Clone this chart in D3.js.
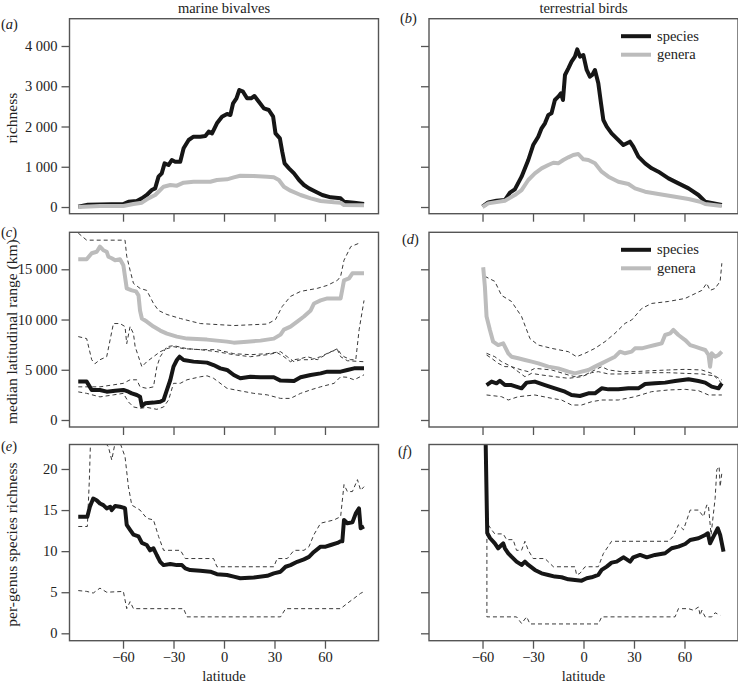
<!DOCTYPE html>
<html>
<head>
<meta charset="utf-8">
<script src="https://cdn.jsdelivr.net/npm/d3@7"></script>
<style>
  body { margin: 0; background: #fff; }
  svg { display: block; font-family: "Liberation Serif", "Times New Roman", "DejaVu Serif", serif; }
</style>
</head>
<body>
<svg id="chart" width="738" height="684"></svg>
<script>
// ---------------- DATA ----------------
const columnTitles = ["marine bivalves", "terrestrial birds"];
const panelLetters = ["a", "b", "c", "d", "e", "f"];
const rowYLabels = ["richness", "median latitudinal range (km)", "per-genus species richness"];
const xTicks = [-60, -30, 0, 30, 60];
const yTicksRichness = [0, 1000, 2000, 3000, 4000];
const yTicksRange = [0, 5000, 10000, 15000];
const yTicksPerGenus = [0, 5, 10, 15, 20];
const legendLabels = ["species", "genera"];

// (a) marine bivalves richness  [latitude, value]
const aSpecies = [[-86.6,8],[-80.9,58],[-59.8,75],[-56.8,132],[-51.8,149],[-48.8,215],[-45.9,298],[-42.9,422],[-40.9,464],[-38.9,754],[-37.0,836],[-35.3,1085],[-33.0,1043],[-31.0,1168],[-29.0,1126],[-26.0,1126],[-24.0,1458],[-21.0,1665],[-18.1,1747],[-14.1,1747],[-11.1,1764],[-9.1,1872],[-7.1,1830],[-4.2,2079],[-1.2,2244],[1.8,2311],[3.8,2286],[5.4,2576],[7.4,2700],[9.1,2907],[11.3,2865],[13.7,2700],[16.1,2700],[18.1,2758],[20.7,2617],[23.7,2451],[26.6,2410],[29.2,2244],[30.6,1830],[33.2,1706],[34.6,1375],[36.0,1085],[38.6,961],[41.6,836],[44.6,671],[47.5,547],[50.5,464],[54.5,381],[58.4,298],[63.4,240],[69.3,215],[71.3,132],[77.3,108],[83.2,75]];
const aGenera = [[-86.6,0],[-73.7,25],[-59.8,25],[-53.8,75],[-48.8,108],[-44.9,215],[-40.9,298],[-37.9,422],[-35.9,505],[-31.9,547],[-28.0,530],[-24.0,605],[-18.1,629],[-8.1,629],[-4.2,671],[1.8,687],[5.8,737],[9.7,778],[17.7,770],[25.7,754],[29.6,737],[32.6,671],[35.6,505],[39.5,406],[45.5,298],[51.5,215],[57.4,149],[65.4,116],[69.3,108],[71.3,50],[83.2,41]];

// (b) terrestrial birds richness
const bSpecies = [[-60.0,8],[-56.6,116],[-51.7,157],[-46.7,174],[-43.7,356],[-40.8,439],[-36.8,754],[-32.8,1168],[-29.9,1540],[-26.9,1747],[-24.9,1954],[-22.9,2079],[-20.9,2286],[-19.0,2327],[-17.0,2658],[-15.0,2741],[-13.4,2824],[-12.2,2658],[-11.0,3280],[-9.0,3445],[-7.1,3611],[-5.1,3735],[-3.7,3917],[-2.1,3735],[-0.1,3776],[1.9,3404],[3.8,3238],[5.2,3280],[6.8,3404],[8.8,3072],[10.4,2576],[11.8,2161],[13.8,1996],[16.7,1830],[19.7,1706],[23.7,1540],[27.6,1623],[29.6,1499],[32.6,1251],[36.6,1085],[40.5,961],[44.5,878],[50.5,712],[56.4,588],[62.4,464],[68.3,298],[72.3,132],[82.2,50]];
const bGenera = [[-60.0,0],[-56.6,91],[-46.7,157],[-40.8,298],[-36.8,422],[-32.8,671],[-28.9,836],[-24.9,961],[-20.9,1043],[-17.9,1101],[-15.0,1085],[-12.0,1168],[-9.0,1234],[-6.1,1292],[-3.1,1317],[-0.1,1184],[2.9,1168],[6.8,1085],[10.8,878],[14.8,754],[20.7,629],[26.7,571],[30.6,464],[36.6,381],[44.5,323],[54.4,257],[62.4,199],[69.3,132],[72.3,75],[82.2,25]];

// (c) marine bivalves median latitudinal range (km)
const cGenera = [[-86.6,16000],[-81.6,16000],[-78.6,16600],[-75.6,16750],[-73.7,17250],[-71.7,16900],[-69.7,16750],[-68.7,16250],[-66.7,16100],[-64.7,15900],[-61.8,16000],[-59.8,15400],[-57.8,13100],[-54.8,12900],[-52.3,12800],[-50.8,12400],[-49.9,10900],[-48.8,10100],[-45.9,9800],[-41.9,9300],[-37.9,8900],[-33.9,8600],[-28.0,8300],[-22.0,8100],[-10.1,8000],[-4.2,7900],[1.8,7800],[5.8,7700],[13.7,7800],[21.7,7900],[29.6,8100],[33.6,8500],[35.6,9000],[39.5,9300],[43.5,9800],[47.5,10300],[51.5,10900],[53.5,11600],[57.4,11900],[61.4,12100],[69.3,12100],[71.3,13900],[74.3,14100],[76.3,14600],[83.2,14600]];
const cSpecies = [[-86.6,3820],[-81.6,3820],[-78.6,2990],[-73.7,2990],[-69.7,2820],[-64.7,2920],[-59.8,2990],[-56.8,2820],[-54.8,2650],[-51.8,2490],[-49.9,2320],[-48.8,1390],[-46.8,1660],[-41.9,1730],[-37.9,1820],[-35.9,1990],[-33.9,2990],[-31.9,3980],[-30.0,5310],[-28.0,5970],[-26.4,6300],[-24.0,5970],[-18.1,5810],[-10.1,5710],[-6.2,5470],[-2.2,5140],[1.8,4980],[5.8,4480],[9.7,4150],[15.7,4310],[21.7,4250],[29.6,4250],[33.6,3920],[41.6,3880],[45.5,4250],[51.5,4480],[57.4,4640],[61.4,4810],[69.3,4810],[73.3,4980],[77.3,5140],[83.2,5140]];
const cGeneraUpper = [[-86.6,18600],[-81.6,17900],[-58.8,17900],[-57.8,16300],[-55.8,14900],[-53.8,13600],[-49.9,13100],[-45.9,12900],[-41.9,11600],[-38.9,10900],[-33.9,10500],[-25.9,10100],[-14.1,9600],[5.8,9400],[25.7,9550],[30.6,10000],[34.6,11300],[39.5,12300],[45.5,12800],[55.4,13100],[61.4,13400],[67.4,13900],[69.3,14300],[71.3,15900],[75.3,17250],[80.3,17600]];
const cGeneraLower = [[-86.6,8300],[-81.6,8100],[-78.6,6000],[-76.7,5600],[-73.7,6000],[-69.7,6300],[-65.7,9600],[-61.8,9600],[-58.8,9300],[-57.8,7600],[-55.8,9300],[-53.8,8600],[-52.8,7300],[-50.8,6300],[-48.8,5300],[-45.9,5800],[-41.9,6300],[-37.9,6800],[-33.9,7100],[-29.9,7300],[-24.0,7100],[-14.1,7000],[-4.2,6800],[5.8,6500],[15.7,6300],[25.7,6500],[31.6,6700],[35.6,6300],[39.5,5800],[41.6,6000],[45.5,6100],[49.5,6300],[55.4,6000],[61.4,6600],[67.4,7100],[69.3,6600],[71.3,6300],[75.3,6000],[78.3,6000],[80.3,9000],[83.2,11900]];
const cSpeciesUpper = [[-86.6,3300],[-73.7,3300],[-65.7,3500],[-59.8,3650],[-55.8,4000],[-51.8,4000],[-49.9,3300],[-45.9,3150],[-41.9,3300],[-39.9,5300],[-37.9,6300],[-35.9,6800],[-33.9,7300],[-29.9,7400],[-22.0,7100],[-14.1,7000],[-4.2,7000],[5.8,6600],[15.7,6500],[25.7,6600],[33.6,6800],[37.6,6300],[41.6,5800],[45.5,6000],[51.5,6000],[57.4,6300],[63.4,6800],[67.4,7000],[69.3,6300],[73.3,5900],[83.2,5800]];
const cSpeciesLower = [[-86.6,2800],[-81.6,2650],[-73.7,2300],[-65.7,2500],[-59.8,2650],[-56.8,1800],[-53.8,1300],[-49.9,1160],[-45.9,1260],[-39.9,1060],[-35.9,1300],[-32.9,2000],[-30.0,3650],[-26.0,3650],[-22.0,4000],[-14.1,4300],[-10.1,4400],[-6.2,4150],[1.8,3150],[9.7,2900],[17.7,2650],[25.7,2500],[33.6,2150],[39.5,2150],[45.5,2650],[51.5,3000],[57.4,3300],[65.4,3650],[69.3,4300],[73.3,4250],[77.3,4000],[83.2,4500]];

// (d) terrestrial birds median latitudinal range (km)
const dGenera = [[-59.6,15200],[-58.6,13300],[-57.6,10300],[-55.6,8960],[-53.7,7800],[-50.7,7460],[-47.7,7630],[-44.7,6640],[-42.8,6300],[-38.8,6140],[-34.8,5970],[-30.8,5810],[-26.8,5640],[-20.9,5310],[-15.0,5140],[-9.0,4810],[-5.1,4640],[-1.1,4810],[2.9,4980],[6.8,5310],[10.8,5640],[14.8,5970],[18.7,6300],[21.7,6800],[24.7,6640],[28.6,6800],[30.6,7130],[34.6,7130],[38.6,7300],[42.5,7460],[46.5,7630],[48.5,8460],[51.5,8630],[53.4,8960],[56.4,8460],[60.4,7960],[63.4,7460],[66.3,7300],[69.3,7130],[72.3,6970],[74.3,6470],[75.2,5310],[76.2,6640],[78.2,6300],[80.2,6470],[82.2,6800]];
const dSpecies = [[-57.6,3480],[-54.6,3820],[-51.7,3650],[-49.7,3910],[-46.7,3480],[-42.8,3480],[-36.8,3150],[-33.8,3720],[-28.9,3820],[-22.9,3480],[-17.0,3150],[-11.0,2820],[-7.1,2490],[-2.1,2390],[2.9,2650],[6.8,2650],[10.8,3150],[14.8,3050],[20.7,3050],[26.7,3150],[32.6,3150],[36.6,3580],[42.5,3650],[48.5,3720],[54.4,3880],[62.4,4050],[68.3,3880],[72.3,3720],[76.2,3320],[80.2,3150],[82.2,3650]];
const dGeneraUpper = [[-58.6,14300],[-52.7,13800],[-48.7,12400],[-42.8,11800],[-36.8,10300],[-31.8,8100],[-26.9,7460],[-18.9,7130],[-9.0,6800],[-4.1,6300],[0.9,6640],[6.8,7130],[12.8,7800],[18.7,8630],[24.7,9620],[28.6,9950],[34.6,11100],[40.5,11600],[50.5,11800],[60.4,12100],[70.3,12900],[73.2,13600],[75.2,12900],[78.2,13100],[81.2,13800],[82.2,15600]];
const dGeneraLower = [[-57.6,6640],[-52.7,6300],[-48.7,5810],[-42.8,5310],[-36.8,4980],[-32.8,4810],[-28.9,5140],[-18.9,4980],[-9.0,4480],[-5.1,4310],[0.9,4480],[6.8,4980],[10.8,5310],[14.8,4980],[22.7,4810],[30.6,4810],[40.5,4910],[50.5,4980],[60.4,5040],[70.3,4980],[76.2,4640],[80.2,3980],[82.2,3650]];
const dSpeciesUpper = [[-57.6,6470],[-54.6,6140],[-50.7,5640],[-46.7,5310],[-42.8,5310],[-38.8,4810],[-34.8,4310],[-30.9,4640],[-24.9,4480],[-17.0,4310],[-9.0,4150],[-1.1,4310],[4.8,4710],[8.8,4810],[14.8,4580],[22.7,4580],[30.6,4640],[40.5,4710],[50.5,4710],[60.4,4640],[70.3,4580],[78.2,4380],[82.2,3980]];
const dSpeciesLower = [[-57.6,2490],[-48.7,2320],[-44.7,1990],[-38.8,2320],[-28.9,2490],[-18.9,2160],[-13.0,1990],[-7.1,1490],[-1.1,1490],[4.8,1820],[10.8,1990],[20.7,1990],[30.6,2320],[40.5,2820],[50.5,2990],[60.4,3050],[68.3,2920],[74.3,2490],[82.2,2490]];

// (e) marine bivalves per-genus species richness
const eSpecies = [[-86.6,14.2],[-81.2,14.2],[-79.7,15.4],[-77.7,16.4],[-75.7,16.2],[-73.7,15.8],[-71.7,15.6],[-69.7,15.2],[-67.6,15.4],[-66.7,15.0],[-64.7,15.5],[-61.8,15.4],[-59.8,15.3],[-58.8,15.2],[-57.8,13.2],[-55.8,12.6],[-53.8,12.0],[-50.8,11.8],[-48.8,11.0],[-45.9,10.75],[-43.9,10.1],[-41.9,10.35],[-39.9,9.5],[-37.9,8.7],[-35.9,8.3],[-31.9,8.44],[-28.0,8.3],[-25.0,8.3],[-23.0,7.9],[-20.1,7.7],[-14.1,7.6],[-8.1,7.5],[-4.2,7.2],[1.8,7.1],[5.8,6.9],[9.7,6.7],[17.7,6.8],[25.7,7.0],[29.6,7.3],[33.6,7.5],[36.6,8.1],[39.5,8.3],[43.5,8.7],[47.5,9.0],[50.5,9.3],[53.4,9.9],[57.4,10.55],[60.4,10.55],[63.4,10.75],[67.4,11.0],[69.3,11.2],[70.3,11.2],[71.3,13.8],[73.3,13.4],[76.3,13.5],[78.3,14.6],[80.2,15.2],[81.2,12.8],[83.2,13.0]];
const eUpper = [[-86.6,13.0],[-81.2,13.0],[-80.0,18.7],[-79.3,23.5],[-71.7,23.5],[-68.7,22.7],[-66.7,21.1],[-64.7,23.2],[-61.8,23.2],[-58.8,21.5],[-56.8,17.85],[-54.8,15.6],[-49.9,15.0],[-45.9,14.0],[-41.9,13.8],[-38.9,11.8],[-35.9,10.1],[-25.9,10.1],[-23.0,9.1],[-6.2,9.1],[-4.2,8.1],[29.6,8.1],[31.6,9.1],[37.6,9.1],[41.6,10.1],[47.5,10.1],[50.5,10.55],[53.4,12.0],[57.4,13.4],[61.4,13.6],[65.4,13.8],[69.3,14.2],[71.3,18.1],[73.3,17.25],[76.3,17.25],[79.3,18.7],[81.2,17.4],[83.2,17.85]];
const eLower = [[-86.6,5.2],[-81.6,5.1],[-77.7,4.9],[-73.7,5.5],[-69.7,5.0],[-59.8,5.1],[-57.8,3.0],[-55.8,3.85],[-53.8,3.0],[-24.0,3.0],[-22.0,2.0],[33.6,2.0],[36.6,3.0],[69.3,3.0],[73.3,3.65],[77.3,4.26],[81.2,4.87],[83.2,5.07]];

// (f) terrestrial birds per-genus species richness
const fSpecies = [[-58.2,24.0],[-57.2,12.2],[-55.6,11.6],[-52.7,10.95],[-50.7,10.35],[-48.7,10.75],[-47.7,10.95],[-46.7,10.35],[-44.7,9.74],[-42.8,9.33],[-39.8,8.72],[-36.8,8.32],[-34.8,8.72],[-32.8,8.32],[-28.9,7.71],[-24.9,7.3],[-20.9,7.1],[-17.0,6.9],[-13.0,6.82],[-9.0,6.57],[-5.1,6.49],[-1.1,6.41],[1.9,6.7],[4.8,6.82],[8.8,7.1],[10.8,7.71],[13.8,8.12],[16.7,8.6],[19.7,8.72],[23.7,9.25],[25.7,9.0],[27.7,8.72],[29.6,9.25],[33.6,9.54],[37.6,9.25],[42.5,9.54],[48.5,9.74],[52.4,10.35],[56.4,10.55],[60.4,10.87],[63.4,11.36],[68.3,11.56],[72.3,11.97],[73.9,12.17],[75.2,10.95],[77.2,11.77],[79.8,12.78],[81.2,11.97],[83.2,9.94]];
const fUpper = [[-57.4,16.6],[-56.6,13.2],[-54.6,12.6],[-52.7,12.1],[-47.7,12.1],[-45.7,11.4],[-41.8,11.4],[-39.8,10.1],[-36.8,10.1],[-34.8,11.2],[-32.8,10.1],[-29.9,9.1],[-22.9,9.1],[-17.9,8.1],[-5.1,8.1],[-4.1,7.1],[-2.1,7.3],[0.9,8.1],[8.8,8.1],[11.8,9.7],[16.7,11.2],[50.5,11.2],[53.4,11.8],[56.4,13.2],[59.4,12.6],[63.4,15.0],[68.3,15.0],[71.3,14.2],[73.2,15.6],[74.2,15.6],[75.8,12.0],[78.2,16.4],[79.2,19.9],[80.6,20.3],[81.2,17.85],[82.2,19.5]];
const fLower = [[-57.4,16.6],[-57.4,2.0],[-39.8,2.0],[-36.8,1.2],[-33.8,2.0],[-31.8,1.14],[8.8,1.14],[10.8,2.0],[54.4,2.0],[56.4,3.0],[62.4,3.0],[65.4,2.8],[68.3,3.2],[69.3,2.2],[70.3,2.8],[72.3,2.0],[76.2,2.0],[78.2,2.5],[81.2,2.2]];

// ---------------- DRAWING ----------------
const svg = d3.select("#chart");
const BLACK = "#161616", GREY = "#bcbcbc", DASH = "#3a3a3a", FRAME = "#555";
const FONT = '"Liberation Serif", "Times New Roman", "DejaVu Serif", serif';

const colX = [[69.5, 378.5], [429, 738]];
const rowY = [[213.7, 18.7], [427, 232.3], [640.7, 444.5]];
const rowDomain = [[-166, 4678], [-697, 18682], [-0.9, 22.98]];
const rowTicks = [yTicksRichness, yTicksRange, yTicksPerGenus];
const fmt = v => v >= 1000 ? d3.format(",")(v).replace(/,/g, " ") : String(v);

const panels = [
  { solid: [[aSpecies, BLACK], [aGenera, GREY]], dashed: [] },
  { solid: [[bSpecies, BLACK], [bGenera, GREY]], dashed: [], legend: true },
  { solid: [[cGenera, GREY], [cSpecies, BLACK]], dashed: [cGeneraUpper, cGeneraLower, cSpeciesUpper, cSpeciesLower] },
  { solid: [[dGenera, GREY], [dSpecies, BLACK]], dashed: [dGeneraUpper, dGeneraLower, dSpeciesUpper, dSpeciesLower], legend: true },
  { solid: [[eSpecies, BLACK]], dashed: [eUpper, eLower] },
  { solid: [[fSpecies, BLACK]], dashed: [fUpper, fLower] }
];
const letterPos = [[1, 29], [400, 23], [1, 237], [402, 244], [1, 451], [398, 456]];

panels.forEach((p, i) => {
  const r = Math.floor(i / 2), c = i % 2;
  const x = d3.scaleLinear().domain([-91.8, 91.8]).range(colX[c]);
  const y = d3.scaleLinear().domain(rowDomain[r]).range(rowY[r]);
  const g = svg.append("g");
  const x0 = colX[c][0], x1 = colX[c][1], yTop = rowY[r][1], yBot = rowY[r][0];

  const clipId = "clip" + i;
  svg.append("clipPath").attr("id", clipId).append("rect")
    .attr("x", x0).attr("y", yTop).attr("width", x1 - x0).attr("height", yBot - yTop);

  const plot = g.append("g").attr("clip-path", `url(#${clipId})`);
  const line = d3.line().x(d => x(d[0])).y(d => y(d[1]));

  p.dashed.forEach(s => {
    plot.append("path").attr("d", line(s)).attr("fill", "none")
      .attr("stroke", DASH).attr("stroke-width", 1).attr("stroke-dasharray", "4,3");
  });
  p.solid.forEach(([s, col]) => {
    plot.append("path").attr("d", line(s)).attr("fill", "none")
      .attr("stroke", col).attr("stroke-width", 4).attr("stroke-linejoin", "round").attr("stroke-linecap", "butt");
  });

  // axes
  const yAxis = d3.axisLeft(y).tickValues(rowTicks[r]).tickSize(8).tickPadding(4)
    .tickFormat(c === 0 ? fmt : () => "");
  const ya = g.append("g").attr("transform", `translate(${x0},0)`).call(yAxis);
  const xAxis = d3.axisBottom(x).tickValues(xTicks).tickSize(8).tickPadding(3)
    .tickFormat(r === 2 ? (v => v < 0 ? "\u2212" + Math.abs(v) : String(v)) : () => "");
  const xa = g.append("g").attr("transform", `translate(0,${yBot})`).call(xAxis);
  [ya, xa].forEach(a => {
    a.attr("font-family", null);
    a.select(".domain").remove();
    a.selectAll("line").attr("stroke", FRAME).attr("stroke-width", 1.3);
    a.selectAll("text").attr("fill", "#222").style("font-size", "14.5px").style("font-family", FONT);
  });

  // frame
  g.append("rect").attr("x", x0).attr("y", yTop).attr("width", x1 - x0).attr("height", yBot - yTop)
    .attr("fill", "none").attr("stroke", FRAME).attr("stroke-width", 1.4);

  // panel letter
  const lt = svg.append("text").attr("x", letterPos[i][0]).attr("y", letterPos[i][1])
    .attr("fill", "#222").style("font-size", "14.5px").style("font-family", FONT);
  lt.append("tspan").text("(");
  lt.append("tspan").style("font-style", "italic").text(panelLetters[i]);
  lt.append("tspan").text(")");

  // legend
  if (p.legend) {
    const ly = [yTop + 17.5, yTop + 36];
    [[BLACK, legendLabels[0]], [GREY, legendLabels[1]]].forEach(([col, lab], k) => {
      svg.append("line").attr("x1", 621).attr("x2", 651).attr("y1", ly[k]).attr("y2", ly[k])
        .attr("stroke", col).attr("stroke-width", 4);
      svg.append("text").attr("x", 657).attr("y", ly[k] + 4.5).attr("fill", "#222")
        .style("font-size", "14.5px").style("font-family", FONT).text(lab);
    });
  }

  // y label
  if (c === 0) {
    svg.append("text").attr("transform", `translate(17,${(yTop + yBot) / 2 + 2}) rotate(-90)`)
      .attr("text-anchor", "middle").attr("fill", "#222").style("font-size", "15.5px")
      .style("font-family", FONT).text(rowYLabels[r]);
  }
  // column title
  if (r === 0) {
    svg.append("text").attr("x", x(0)).attr("y", 12.5).attr("text-anchor", "middle")
      .attr("fill", "#222").style("font-size", "14.5px").style("font-family", FONT).text(columnTitles[c]);
  }
  if (r === 2) {
    svg.append("text").attr("x", x(0)).attr("y", 681).attr("text-anchor", "middle")
      .attr("fill", "#222").style("font-size", "14.5px").style("font-family", FONT).text("latitude");
  }
});
</script>
</body>
</html>
